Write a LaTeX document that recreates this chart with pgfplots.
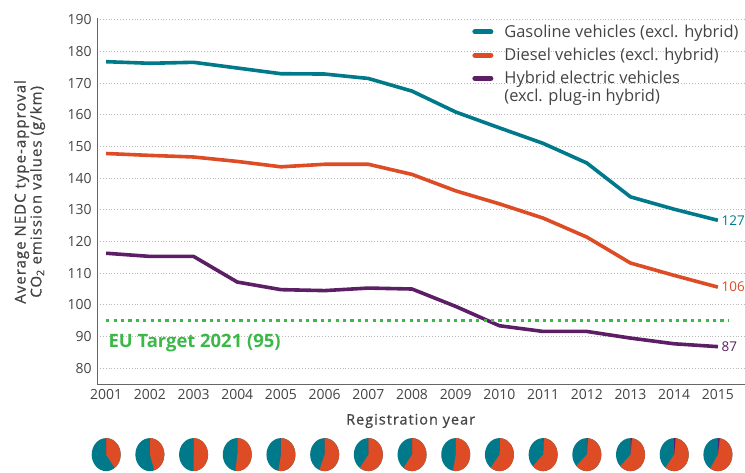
\documentclass[border=0pt]{standalone}
\usepackage{fontspec}
\setmainfont{Open Sans}
\newfontfamily\medfont{Open Sans}[FakeBold=0.7, LetterSpace=7]
\usepackage{pgfplots}
\usepackage{pgfplotstable}
\pgfplotsset{compat=1.18}

\definecolor{gascol}{RGB}{0,121,138}
\definecolor{dieselcol}{RGB}{221,76,36}
\definecolor{hybcol}{RGB}{92,30,100}
\definecolor{targetcol}{RGB}{60,184,72}
\definecolor{txtcol}{RGB}{68,68,68}
\definecolor{gridcol}{RGB}{185,185,185}

% average type-approval CO2 (g/km)
\pgfplotstableread{
year gas   diesel hybrid
2001 176.8 147.8  116.3
2002 176.3 147.2  115.3
2003 176.6 146.7  115.3
2004 174.8 145.3  107.2
2005 173.0 143.6  104.8
2006 172.9 144.4  104.5
2007 171.5 144.4  105.3
2008 167.5 141.2  105.0
2009 160.9 136.0   99.5
2010 155.9 131.9   93.4
2011 151.0 127.4   91.6
2012 144.8 121.4   91.6
2013 134.1 113.2   89.5
2014 130.2 109.3   87.7
2015 126.7 105.6   86.8
}\emissions

% one pie per year: diesel share and hybrid share, rest gasoline
\newcommand\pie[3]{%
  \fill[gascol] (axis cs:#1,52.7) ellipse [x radius=14.5bp, y radius=16.5bp];
  \fill[dieselcol] (axis cs:#1,52.7) -- ++(0bp,16.5bp)
    arc[start angle=90, end angle={90-360*(#2+#3)}, x radius=14.5bp, y radius=16.5bp] -- cycle;
  \fill[hybcol] (axis cs:#1,52.7) -- ++(0bp,16.5bp)
    arc[start angle=90, end angle={90-360*#3}, x radius=14.5bp, y radius=16.5bp] -- cycle;
}

\begin{document}
\begin{tikzpicture}
\path[use as bounding box] (-97bp,-89bp) rectangle (648bp,384bp);
\begin{axis}[
    scale only axis,
    width=648bp, height=366bp,
    xmin=2000.79, xmax=2015.62,
    ymin=75, ymax=190.6,
    clip=false,
    axis x line*=bottom,
    axis y line*=left,
    axis line style={draw=black!60, line width=0.9pt},
    xtick={2001,...,2015},
    ytick={80,90,...,190},
    major tick length=0pt,
    ymajorgrids,
    grid style={gridcol, line width=0.9pt, dash pattern=on 0.9pt off 2pt},
    /pgf/number format/assume math mode=true,
    /pgf/number format/1000 sep={},
    ticklabel style={font=\fontsize{14}{16}\selectfont, text=txtcol},
    xticklabel style={yshift=-2bp},
    yticklabel style={xshift=-2bp},
    xlabel={Registration year},
    xlabel style={at={(axis description cs:0.484,-0.101)}, anchor=center,
                  font=\medfont\fontsize{14.5}{17}\selectfont, text=txtcol},
    ylabel={Average NEDC type-approval\\CO\textsubscript{2} emission values (g/km)},
    ylabel style={at={(axis description cs:-0.104,0.525)}, anchor=center, align=center,
                  font=\medfont\fontsize{15}{16}\selectfont, text=txtcol},
    legend style={at={(axis description cs:0.579,0.982)}, anchor=north west,
                  draw=none, fill=none, inner sep=0pt,
                  font=\fontsize{16.5}{18}\selectfont, text=txtcol,
                  row sep=9.5bp, column sep=11bp,
                  nodes={inner sep=0pt}},
    legend cell align=left,
    legend image code/.code={\draw[line width=5bp, line cap=round] (0bp,0bp) -- (16bp,0bp);},
    every axis plot/.append style={line width=3.6bp, line join=round},
]
\addplot[gascol, no markers] table[x=year, y=gas] {\emissions};
\addlegendentry{Gasoline vehicles (excl. hybrid)}
\addplot[dieselcol, no markers] table[x=year, y=diesel] {\emissions};
\addlegendentry{Diesel vehicles (excl. hybrid)}
\addplot[hybcol, no markers] table[x=year, y=hybrid] {\emissions};
\addlegendentry{\vphantom{(Hy}\smash{\begin{tabular}[t]{@{}l@{}}Hybrid electric vehicles\\(excl. plug-in hybrid)\end{tabular}}}

\addplot[targetcol, line width=3.2bp, dash pattern=on 3.2bp off 4.2bp, forget plot]
    coordinates {(2001,95) (2015.24,95)};
\node[anchor=west, inner sep=0pt, text=targetcol, font=\bfseries\fontsize{18.5}{20}\selectfont]
    at (axis cs:2001.05,88) {EU Target 2021 (95)};

\node[anchor=west, inner sep=0pt, text=gascol, font=\fontsize{13.5}{16}\selectfont]
    at (axis cs:2015,126.7) {\hspace{3.5bp}127};
\node[anchor=west, inner sep=0pt, text=dieselcol, font=\fontsize{13.5}{16}\selectfont]
    at (axis cs:2015,105.6) {\hspace{3.5bp}106};
\node[anchor=west, inner sep=0pt, text=hybcol, font=\fontsize{13.5}{16}\selectfont]
    at (axis cs:2015,86.8) {\hspace{3.5bp}87};

\foreach \yr/\d/\h in {2001/0.40/0, 2002/0.45/0, 2003/0.50/0, 2004/0.52/0,
    2005/0.53/0, 2006/0.56/0, 2007/0.60/0, 2008/0.60/0, 2009/0.53/0,
    2010/0.60/0.003, 2011/0.62/0.005, 2012/0.62/0.01, 2013/0.61/0.015,
    2014/0.59/0.015, 2015/0.57/0.02}{
  \edef\temp{\noexpand\pie{\yr}{\d}{\h}}\temp
}
\end{axis}
\end{tikzpicture}
\end{document}
